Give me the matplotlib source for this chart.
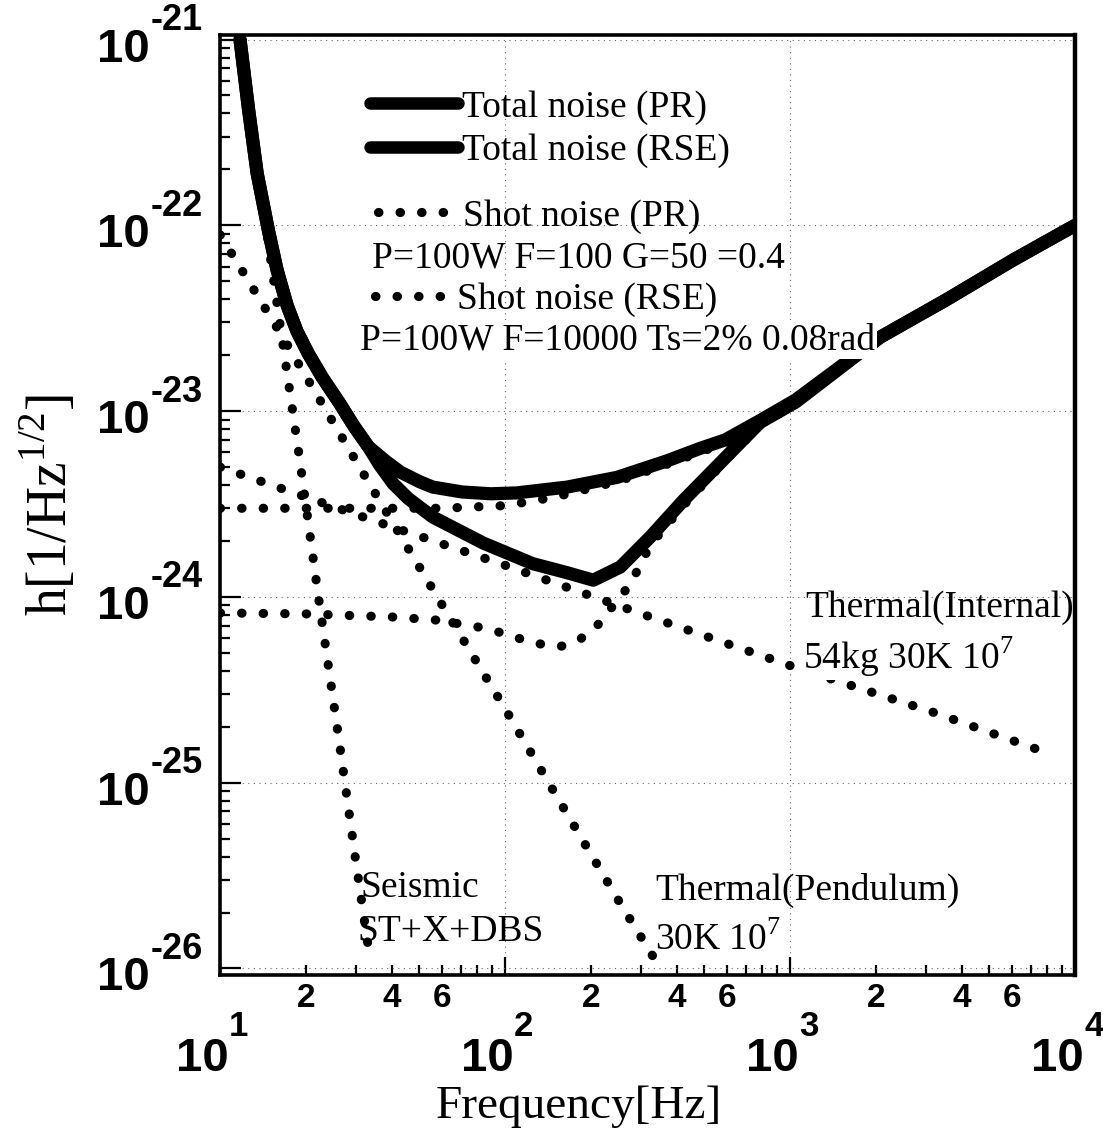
import math
import matplotlib
matplotlib.use("Agg")
import matplotlib.pyplot as plt
from matplotlib.ticker import FixedLocator, NullFormatter, LogLocator, FuncFormatter
from matplotlib.lines import Line2D
from matplotlib.transforms import blended_transform_factory, offset_copy

# ---------------- data ----------------
pr_total_f = [11.75, 12.6, 13.5, 14.8, 15.85, 17.2, 18.6, 20.4, 22.9, 26.3, 29.5, 33.1, 38.0, 42.9, 50.1, 55.8, 70.8, 89.1,
              110, 165, 247, 370, 483, 592, 785, 1047, 2070, 3556, 6053, 10000]
pr_total_h = [1.0e-21, 4.17e-22, 1.9e-22, 9.3e-23, 5.75e-23, 3.7e-23, 2.7e-23, 2.04e-23, 1.51e-23, 1.10e-23, 8.3e-24, 6.45e-24,
              5.4e-24, 4.7e-24, 4.17e-24, 3.9e-24, 3.67e-24, 3.59e-24,
              3.63e-24, 3.9e-24, 4.4e-24, 5.4e-24, 6.3e-24, 7.0e-24, 8.9e-24, 1.15e-23, 2.5e-23, 4.0e-23, 6.5e-23, 1.0e-22]

rse_total_f = [11.75, 12.6, 13.5, 14.8, 15.85, 17.2, 18.6, 20.4, 22.9, 26.3, 29.5, 33.1, 36.3, 40.5, 45.7, 55.8, 83.8,
               125, 165, 204, 254, 323, 422, 592, 785, 1047, 2070, 3556, 6053, 10000]
rse_total_h = [1.0e-21, 4.17e-22, 1.9e-22, 9.3e-23, 5.75e-23, 3.7e-23, 2.7e-23, 2.04e-23, 1.51e-23, 1.10e-23, 8.3e-24, 6.45e-24,
               5.13e-24, 4.07e-24, 3.39e-24, 2.69e-24, 1.95e-24,
               1.51e-24, 1.35e-24, 1.23e-24, 1.45e-24, 2.1e-24, 3.3e-24, 5.6e-24, 8.7e-24, 1.12e-23, 2.5e-23, 4.0e-23, 6.5e-23, 1.0e-22]

shot_pr_f = [10, 30, 60, 100, 150, 250, 400, 600, 1000, 2000, 4000, 10000]
shot_pr_h = [3.0e-24, 3.0e-24, 3.0e-24, 3.1e-24, 3.45e-24, 4.2e-24, 5.4e-24, 6.8e-24, 1.08e-23, 2.4e-23, 4.4e-23, 1.0e-22]

shot_rse_f = [10, 20, 40, 57.7, 80, 94, 111, 131, 156, 183, 212, 275, 323, 422, 592, 785, 1047, 2070, 3556, 6053, 10000]
shot_rse_h = [8.2e-25, 8.1e-25, 7.8e-25, 7.5e-25, 6.9e-25, 6.5e-25, 6.0e-25, 5.6e-25, 5.4e-25, 5.9e-25, 7.1e-25, 1.17e-24,
              1.9e-24, 3.1e-24, 5.4e-24, 8.4e-24, 1.1e-23, 2.45e-23, 3.9e-23, 6.4e-23, 1.0e-22]

thermal_int_f = [10, 31.6, 100, 316, 1000, 3162, 7950]
thermal_int_h = [5.0e-24, 2.7e-24, 1.48e-24, 7.9e-25, 4.27e-25, 2.4e-25, 1.45e-25]

pendulum_f = [10, 12.6, 16.6, 31.6, 59, 100, 158, 251, 344]
pendulum_h = [8.9e-23, 5.0e-23, 2.5e-23, 4.7e-24, 9.5e-25, 2.5e-25, 7.6e-26, 2.3e-26, 1.05e-26]

seismic_f = [11.5, 13, 15, 17, 19, 22, 26, 30, 33.6]
seismic_h = [1.2e-21, 3.2e-22, 6.8e-23, 1.8e-23, 5.6e-24, 1.07e-24, 1.8e-25, 3.7e-26, 1.12e-26]

x_major = [1e1, 1e2, 1e3, 1e4]
x_major_exps = ['1', '2', '3', '4']
x_minor_shown = [2, 4, 6]
y_major = [1e-26, 1e-25, 1e-24, 1e-23, 1e-22, 1e-21]
y_major_exps = ['-26', '-25', '-24', '-23', '-22', '-21']

# ---------------- figure ----------------
SERIF = 'Liberation Serif'
SANS = 'Liberation Sans'

fig = plt.figure(figsize=(11.03, 11.45), dpi=100)
ax = fig.add_axes([0.1995, 0.1485, 0.7752, 0.8210])
ax.set_xscale('log')
ax.set_yscale('log')
ax.set_xlim(10, 1e4)
ax.set_ylim(10 ** -26.035, 10 ** -20.975)

thick = dict(color='black', lw=9.5, solid_capstyle='round', solid_joinstyle='round', zorder=4)
dot = dict(color='black', lw=6.6, linestyle=(0, (0.05, 2.3)), dash_capstyle='round', zorder=3)

ax.plot(seismic_f, seismic_h, **dot)
ax.plot(pendulum_f, pendulum_h, **dot)
ax.plot(thermal_int_f, thermal_int_h, **dot)
ax.plot(shot_pr_f, shot_pr_h, **dot)
ax.plot(shot_rse_f, shot_rse_h, **dot)
ax.plot(rse_total_f, rse_total_h, **thick)
ax.plot(pr_total_f, pr_total_h, **thick)

# grid
ax.grid(True, which='major', linestyle=(0, (1, 4)), color='0.4', linewidth=0.8)
ax.set_axisbelow(True)

# spines / ticks
for s in ax.spines.values():
    s.set_linewidth(2.6)
ax.spines['right'].set_linewidth(3.2)
ax.xaxis.set_major_locator(FixedLocator(x_major))
ax.xaxis.set_major_formatter(NullFormatter())
ax.xaxis.set_minor_locator(LogLocator(base=10, subs=[2, 3, 4, 5, 6, 7, 8, 9]))


def minor_fmt(v, pos):
    d = int(round(v / 10 ** math.floor(math.log10(v) + 1e-9)))
    return str(d) if d in x_minor_shown else ''


ax.xaxis.set_minor_formatter(FuncFormatter(minor_fmt))
ax.yaxis.set_major_locator(FixedLocator(y_major))
ax.yaxis.set_major_formatter(NullFormatter())
ax.yaxis.set_minor_locator(LogLocator(base=10, subs=[2, 3, 4, 5, 6, 7, 8, 9]))
ax.yaxis.set_minor_formatter(NullFormatter())

ax.tick_params(which='both', direction='in', top=False, right=False, width=1.6)
ax.tick_params(axis='x', which='major', length=13)
ax.tick_params(axis='x', which='minor', length=7, pad=6, labelsize=24)
ax.tick_params(axis='y', which='major', length=15)
ax.tick_params(axis='y', which='minor', length=7)
for lab in ax.get_xticklabels(which='minor'):
    lab.set_fontfamily(SANS)
    lab.set_fontweight('bold')

# major tick labels: "10" with a raised exponent, as in the original
bold = dict(fontfamily=SANS, fontweight='bold', clip_on=False)
tx = blended_transform_factory(ax.transData, ax.transAxes)
for v, e in zip(x_major, x_major_exps):
    ax.text(v, 0, '10', transform=offset_copy(tx, fig=fig, x=-18, y=-84, units='dots'),
            ha='center', va='center', fontsize=34, **bold)
    ax.text(v, 0, e, transform=offset_copy(tx, fig=fig, x=9, y=-52, units='dots'),
            ha='left', va='center', fontsize=25, **bold)
ty = blended_transform_factory(ax.transAxes, ax.transData)
for v, e in zip(y_major, y_major_exps):
    ax.text(0, v, '10', transform=offset_copy(ty, fig=fig, x=-70, y=-10, units='dots'),
            ha='right', va='center', fontsize=34, **bold)
    ax.text(0, v, e, transform=offset_copy(ty, fig=fig, x=-69, y=19, units='dots'),
            ha='left', va='center', fontsize=26, **bold)

ax.set_xlabel('Frequency[Hz]', fontfamily=SERIF, fontsize=34)
ax.xaxis.set_label_coords(0.419, -0.118)
ax.set_ylabel(r'h[1/Hz$^{\mathregular{1/2}}$]', fontfamily=SERIF, fontsize=40)
ax.yaxis.set_label_coords(-0.165, 0.5)

# ---------------- legends / annotations ----------------
fs = 27
prop = dict(family=SERIF, size=fs)
h_tot_pr = Line2D([], [], color='black', lw=9, solid_capstyle='round')
h_tot_rse = Line2D([], [], color='black', lw=9, solid_capstyle='round')
h_dot = Line2D([], [], color='black', lw=6.6, linestyle=(0, (0.05, 2.3)), dash_capstyle='round')

leg1 = ax.legend([h_tot_pr, h_tot_rse], ['Total noise (PR)', 'Total noise (RSE)'],
                 loc='upper left', bbox_to_anchor=(0.175, 0.9415), frameon=False, prop=prop,
                 borderpad=0, borderaxespad=0, handlelength=2.35, handletextpad=0.12, labelspacing=0.24)
ax.add_artist(leg1)
leg2 = ax.legend([h_dot], ['Shot noise (PR)'], loc='upper left', bbox_to_anchor=(0.185, 0.8255),
                 frameon=False, prop=prop, borderpad=0, borderaxespad=0, handlelength=1.8,
                 handletextpad=0.45)
ax.add_artist(leg2)
leg3 = ax.legend([h_dot], ['Shot noise (RSE)'], loc='upper left', bbox_to_anchor=(0.181, 0.7365),
                 frameon=False, prop=prop, borderpad=0, borderaxespad=0, handlelength=1.8,
                 handletextpad=0.4)

white = dict(facecolor='white', edgecolor='none', pad=1.0)
tkw = dict(transform=ax.transAxes, fontfamily=SERIF, fontsize=fs, va='baseline', ha='left', zorder=6)
ax.text(0.178, 0.753, 'P=100W F=100 G=50 =0.4', **tkw)
ax.text(0.164, 0.665, 'P=100W F=10000 Ts=2% 0.08rad', bbox=white, **tkw)
ax.text(0.684, 0.381, 'Thermal(Internal)', **tkw)
ax.text(0.682, 0.326, r'54kg 30K 10$^{\mathregular{7}}$', bbox=white, **tkw)
ax.text(0.164, 0.083, 'Seismic', **tkw)
ax.text(0.161, 0.036, 'ST+X+DBS', **tkw)
ax.text(0.509, 0.080, 'Thermal(Pendulum)', **tkw)
ax.text(0.509, 0.027, r'30K 10$^{\mathregular{7}}$', **tkw)

fig.savefig('out.png', dpi=100)
